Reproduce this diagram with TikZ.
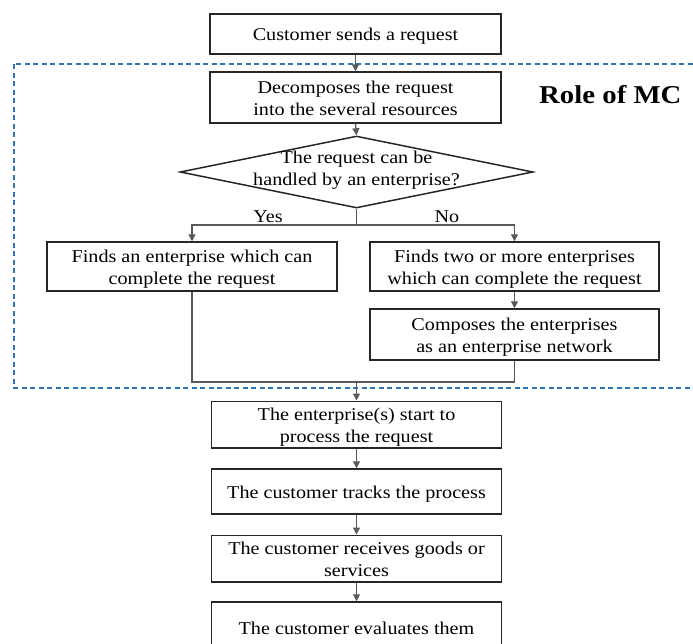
\documentclass[tikz,border=0pt]{standalone}
\usepackage{fontspec}
\setmainfont{Liberation Serif}[FakeStretch=1.12]
\usetikzlibrary{shapes.geometric,arrows.meta}
\definecolor{mcblue}{HTML}{2E75B6}
\definecolor{linegray}{HTML}{595959}
\definecolor{boxline}{HTML}{262626}
% line strut so that text is centred by its line box, not by its ink
\newcommand\linestrut{\rule[-5.5pt]{0pt}{24.5pt}}
\begin{document}
\begin{tikzpicture}[x=1pt,y=-1pt,
  every node/.style={font=\fontsize{18}{22}\selectfont},
  struts/.style={execute at begin node=\linestrut, execute at end node=\linestrut},
  stepbox/.style={draw=boxline, line width=1.5pt, align=center, inner sep=0pt, struts},
  conn/.style={draw=linegray, line width=1.3pt},
  arr/.style={conn, -{Triangle[length=7pt,width=7pt]}},
  lbl/.style={inner sep=0pt},
]
\useasboundingbox (0,0) rectangle (693,643);
\clip (0,0) rectangle (693,643);

% region handled by the MC
\draw[mcblue, line width=1.4pt, dash pattern=on 5pt off 3.5pt] (14,64) rectangle (705,388);
\node[font=\fontsize{25.7}{30}\bfseries\selectfont, anchor=west, inner sep=0pt] (role) at (539,95) {Role of MC};

% process steps (two-line texts carry a strut in their first line too)
\node[stepbox, minimum width=291pt, minimum height=40pt] (req) at (355.5,34) {Customer sends a request};
\node[stepbox, minimum width=291pt, minimum height=51pt] (decomp) at (355.5,97.5) {\linestrut Decomposes the request\\into the several resources};
\node[draw=boxline, line width=1.5pt, diamond, minimum width=353pt, minimum height=72pt, inner sep=0pt] (q) at (356.5,172) {};
\node[align=center, lbl, struts] (qtext) at (356.5,167.5) {\linestrut The request can be\\handled by an enterprise?};

\node[stepbox, minimum width=290pt, minimum height=49pt] (one) at (192,266.5) {\linestrut Finds an enterprise which can\\complete the request};
\node[stepbox, minimum width=289pt, minimum height=49pt] (two) at (514.5,266.5) {\linestrut Finds two or more enterprises\\which can complete the request};
\node[stepbox, minimum width=289pt, minimum height=51pt] (compose) at (514.5,334.5) {\linestrut Composes the enterprises\\as an enterprise network};

\node[stepbox, minimum width=290pt, minimum height=45pt] (start) at (356.5,424.5) {\linestrut The enterprise(s) start to\\process the request};
\node[stepbox, minimum width=290pt, minimum height=45pt] (track) at (356.5,491.5) {The customer tracks the process};
\node[stepbox, minimum width=290pt, minimum height=45pt] (recv) at (356.5,558.5) {\linestrut The customer receives goods or\\services};
\node[stepbox, minimum width=290pt, minimum height=52pt] (eval) at (356.5,628) {The customer evaluates them};

% branch labels
\node[lbl] (yeslab) at (268,216.5) {Yes};
\node[lbl] (nolab) at (447,216.5) {No};

% connectors
\coordinate (split) at (356.5,225);
\coordinate (merge) at (356.5,382);
\draw[arr] (req.south) -- (decomp.north);
\draw[arr] (decomp.south) -- (q.north);
\draw[conn] (q.south) -- (split);
\draw[arr] (split) -| (one.north);
\draw[arr] (split) -| (two.north);
\draw[arr] (two.south) -- (compose.north);
\draw[conn] (one.south) |- (merge);
\draw[conn] (compose.south) |- (merge);
\draw[arr] (merge) -- (start.north);
\draw[arr] (start.south) -- (track.north);
\draw[arr] (track.south) -- (recv.north);
\draw[arr] (recv.south) -- (eval.north);
\end{tikzpicture}
\end{document}
